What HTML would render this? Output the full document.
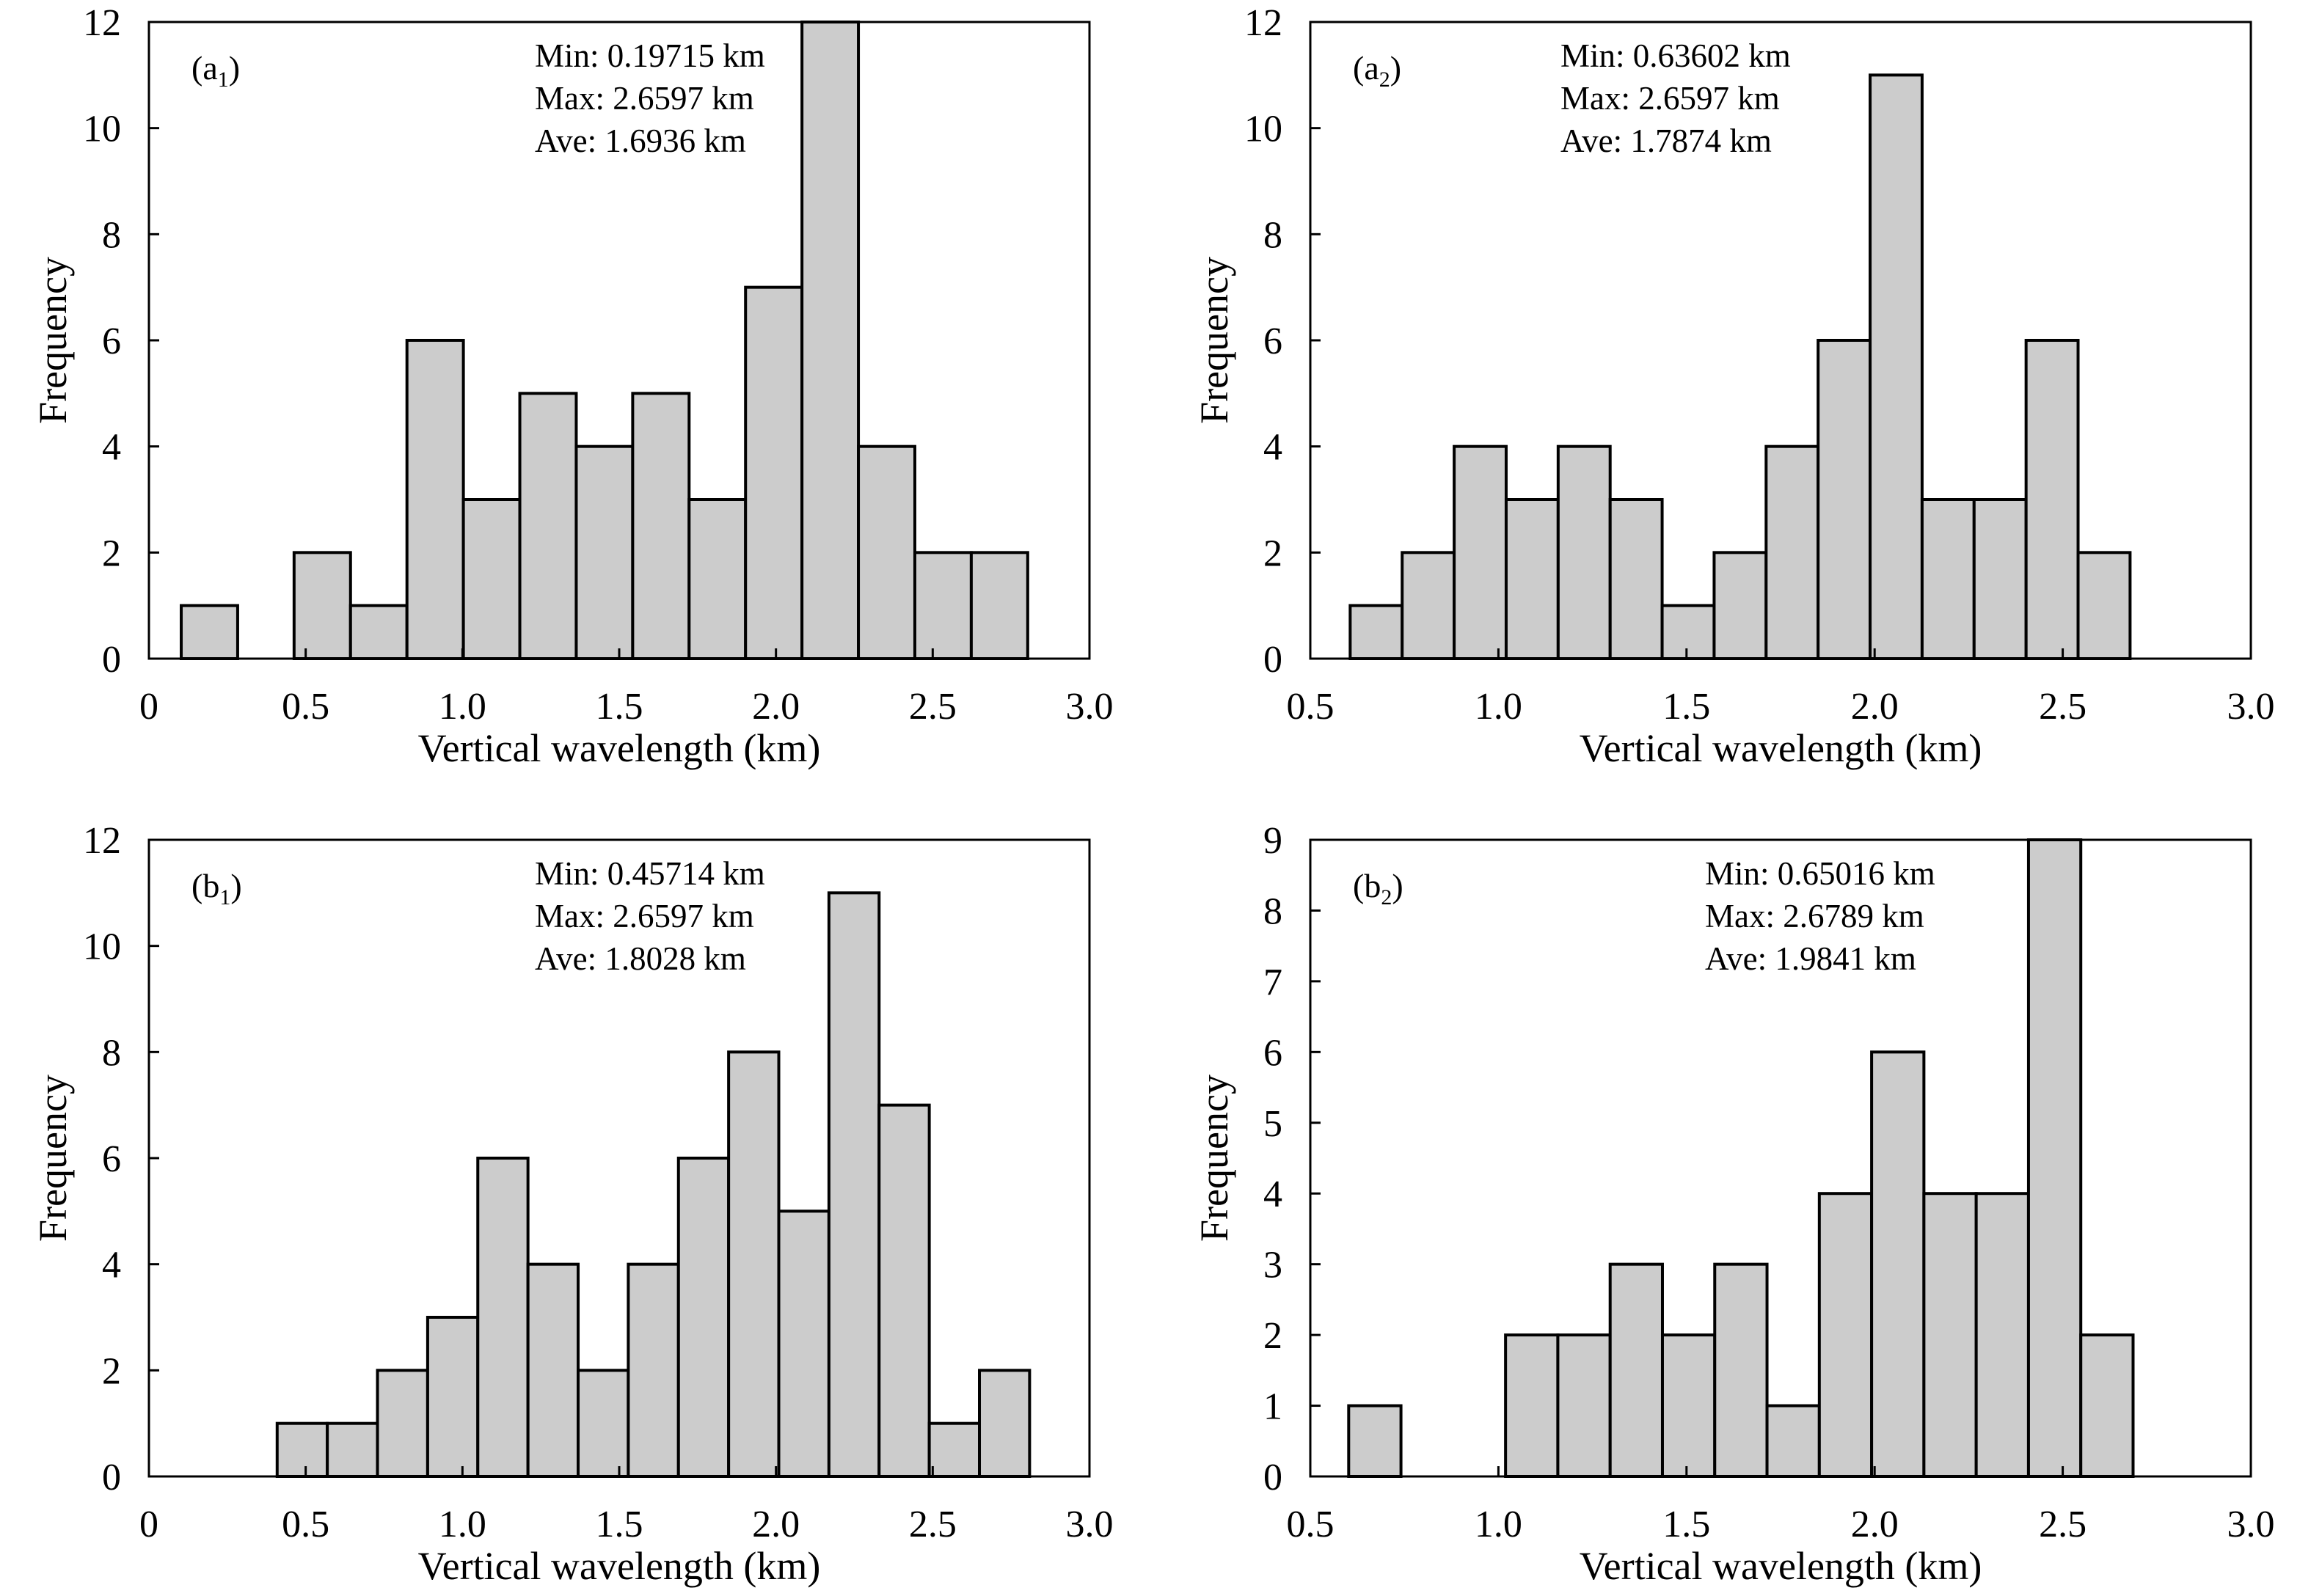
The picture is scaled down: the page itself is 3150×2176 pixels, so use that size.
<!DOCTYPE html>
<html><head><meta charset="utf-8"><style>
html,body{margin:0;padding:0;background:#fff;}
svg{display:block;}
text{font-family:"Liberation Serif",serif;fill:#000;}
</style></head><body>
<svg id="fig" width="3150" height="2176" viewBox="0 0 3150 2176" xmlns="http://www.w3.org/2000/svg"></svg>
<script>
// ---- data ----
const a1Counts = [1,0,2,1,6,3,5,4,5,3,7,12,4,2,2];
const a1Start = 0.103, a1Width = 0.18;
const a2Counts = [1,2,4,3,4,3,1,2,4,6,11,3,3,6,2];
const a2Start = 0.606, a2Width = 0.1382;
const b1Counts = [1,1,2,3,6,4,2,4,6,8,5,11,7,1,2];
const b1Start = 0.409, b1Width = 0.16;
const b2Counts = [1,0,0,2,2,3,2,3,1,4,6,4,4,9,2];
const b2Start = 0.602, b2Width = 0.139;
const xTicksA = ["0","0.5","1.0","1.5","2.0","2.5","3.0"];
const xTicksB = ["0.5","1.0","1.5","2.0","2.5","3.0"];
const yTicks12 = [0,2,4,6,8,10,12];
const yTicks9 = [0,1,2,3,4,5,6,7,8,9];
const a1Stats = ["Min: 0.19715 km","Max: 2.6597 km","Ave: 1.6936 km"];
const a2Stats = ["Min: 0.63602 km","Max: 2.6597 km","Ave: 1.7874 km"];
const b1Stats = ["Min: 0.45714 km","Max: 2.6597 km","Ave: 1.8028 km"];
const b2Stats = ["Min: 0.65016 km","Max: 2.6789 km","Ave: 1.9841 km"];

const NS = "http://www.w3.org/2000/svg";
const svg = document.getElementById('fig');
function mk(tag, attrs, parent){
  const e = document.createElementNS(NS, tag);
  for (const k in attrs) e.setAttribute(k, attrs[k]);
  (parent||svg).appendChild(e);
  return e;
}

const panels = [
  {id:'a1', ox:0, oy:0, xmin:0, xmax:3, ymax:12, counts:a1Counts, start:a1Start, width:a1Width, xt:xTicksA, yt:yTicks12, stats:a1Stats, statX:729, lab:'a', sub:'1'},
  {id:'a2', ox:1583, oy:0, xmin:0.5, xmax:3, ymax:12, counts:a2Counts, start:a2Start, width:a2Width, xt:xTicksB, yt:yTicks12, stats:a2Stats, statX:544, lab:'a', sub:'2'},
  {id:'b1', ox:0, oy:1115, xmin:0, xmax:3, ymax:12, counts:b1Counts, start:b1Start, width:b1Width, xt:xTicksA, yt:yTicks12, stats:b1Stats, statX:729, lab:'b', sub:'1'},
  {id:'b2', ox:1583, oy:1115, xmin:0.5, xmax:3, ymax:9, counts:b2Counts, start:b2Start, width:b2Width, xt:xTicksB, yt:yTicks9, stats:b2Stats, statX:741, lab:'b', sub:'2'}
];

panels.forEach(p => {
  const L = 203 + p.ox, R = 1485 + p.ox, T = 30 + p.oy, B = 898 + p.oy;
  const xs = v => L + (v - p.xmin) / (p.xmax - p.xmin) * (R - L);
  const ys = v => B - v / p.ymax * (B - T);
  const g = mk('g', {});
  
  

  p.counts.forEach((c, i) => {
    if (c <= 0) return;
    const x0 = xs(p.start + i * p.width), x1 = xs(p.start + (i + 1) * p.width);
    const r = mk('rect', {x:x0, y:ys(c), width:x1 - x0, height:B - ys(c), fill:'#cccccc', stroke:'#000', 'stroke-width':4}, g);
    
    
  });
  const fr = mk('rect', {x:L, y:T, width:R - L, height:B - T, fill:'none', stroke:'#000', 'stroke-width':3}, g);
  
  

  p.yt.forEach(v => {
    mk('line', {x1:L, x2:L + 14, y1:ys(v), y2:ys(v), stroke:'#000', 'stroke-width':3}, g);
    const t = mk('text', {x:L - 38, y:ys(v) + 18, 'font-size':52, 'text-anchor':'end'}, g);
    t.textContent = v;
    
    
  });
  p.xt.forEach(s => {
    const v = parseFloat(s);
    mk('line', {x1:xs(v), x2:xs(v), y1:B, y2:B - 14, stroke:'#000', 'stroke-width':3}, g);
    const t = mk('text', {x:xs(v), y:B + 82, 'font-size':52, 'text-anchor':'middle'}, g);
    t.textContent = s;
    
    
  });
  const xt = mk('text', {x:(L + R) / 2, y:B + 140, 'font-size':54, 'text-anchor':'middle'}, g);
  xt.textContent = 'Vertical wavelength (km)';
  
  
  const yt = mk('text', {x:0, y:0, 'font-size':54, 'text-anchor':'middle', transform:'translate(' + (L - 113) + ',' + ((T + B) / 2) + ') rotate(-90)'}, g);
  yt.textContent = 'Frequency';
  
  

  const lb = mk('text', {x:L + 58, y:T + 78, 'font-size':46}, g);
  
  
  lb.appendChild(document.createTextNode('(' + p.lab));
  const sb = mk('tspan', {'font-size':30, dy:10}, lb);
  sb.textContent = p.sub;
  const cl = mk('tspan', {'font-size':46, dy:-10}, lb);
  cl.textContent = ')';

  p.stats.forEach((s, i) => {
    const t = mk('text', {x:p.statX + p.ox, y:T + 61 + i * 58, 'font-size':45}, g);
    t.textContent = s;
    
    
  });
});
</script>
</body></html>
